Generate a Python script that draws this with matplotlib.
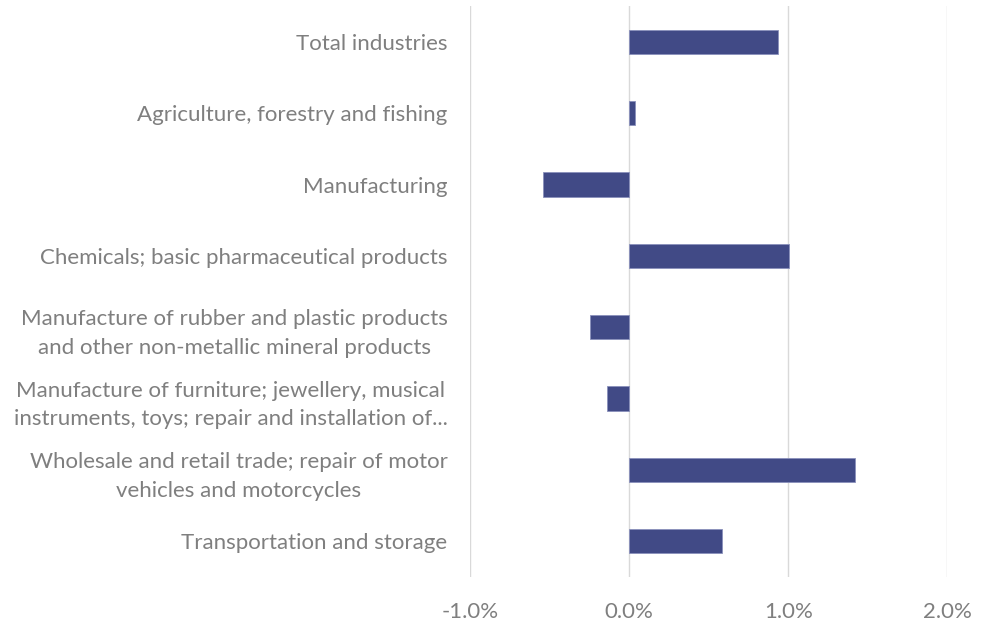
import numpy as np
import matplotlib.pyplot as plt
from matplotlib.ticker import FuncFormatter

plt.rcParams['font.family'] = ['Lato', 'DejaVu Sans']

categories = [
    'Total industries',
    'Agriculture, forestry and fishing',
    'Manufacturing',
    'Chemicals; basic pharmaceutical products',
    'Manufacture of rubber and plastic products\nand other non-metallic mineral products',
    'Manufacture of furniture; jewellery, musical\ninstruments, toys; repair and installation of...',
    'Wholesale and retail trade; repair of motor\nvehicles and motorcycles',
    'Transportation and storage',
]
values = [0.934, 0.036, -0.54, 1.007, -0.245, -0.137, 1.418, 0.587]
xticks = [-1.0, 0.0, 1.0, 2.0]

grey = '#7f7f7f'
barcol = '#414a86'

fig = plt.figure(figsize=(9.89, 6.21), dpi=100)
ax = fig.add_axes([0.475, 0.071, 0.483, 0.919])

y = np.arange(len(categories))
ax.barh(y, values, height=0.34, color=barcol, edgecolor='#8a90bb', linewidth=0.6, zorder=3)
ax.set_ylim(len(categories) - 0.5, -0.5)
ax.set_xlim(-1.0, 2.0)
ax.set_xticks(xticks)
ax.xaxis.set_major_formatter(FuncFormatter(lambda v, p: f'{v:.1f}%'))
ax.set_yticks(y)
ax.set_yticklabels(categories, multialignment='center', linespacing=1.55)

ax.grid(axis='x', color='#d9d9d9', linewidth=1, zorder=0)
ax.set_axisbelow(True)
for s in ax.spines.values():
    s.set_visible(False)
ax.tick_params(axis='both', length=0, colors=grey, labelsize=16)
ax.tick_params(axis='y', pad=16)
ax.tick_params(axis='x', pad=18)

fig.savefig('out.png', dpi=100)
